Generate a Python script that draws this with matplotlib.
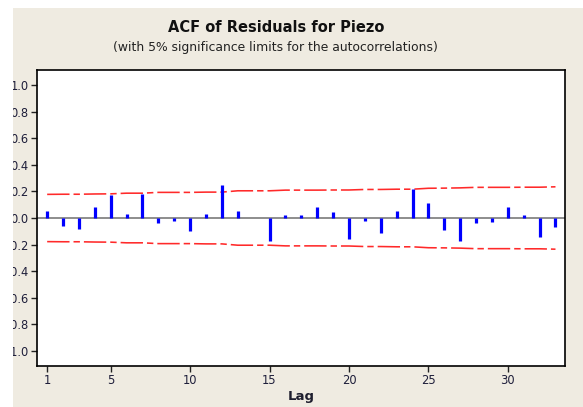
import matplotlib
matplotlib.use("Agg")
import matplotlib.pyplot as plt
from matplotlib.patches import Rectangle

# autocorrelations
lags = list(range(1, 34))
acf = [0.05, -0.063, -0.08, 0.083, 0.175, 0.03, 0.183, -0.04, -0.02, -0.095,
       0.03, 0.25, 0.053, 0.0, -0.175, 0.02, 0.02, 0.08, 0.045, -0.155,
       -0.025, -0.11, 0.053, 0.215, 0.113, -0.088, -0.175, -0.038, -0.028, 0.08,
       0.022, -0.14, -0.065]
# upper 5% significance limit per lag (lower one is the mirror)
limit = [0.178, 0.179, 0.179, 0.181, 0.182, 0.187, 0.187, 0.193, 0.193, 0.193,
         0.195, 0.195, 0.205, 0.205, 0.205, 0.210, 0.210, 0.210, 0.211, 0.211,
         0.215, 0.215, 0.217, 0.217, 0.224, 0.225, 0.227, 0.231, 0.231, 0.231,
         0.232, 0.232, 0.235]
xticks = [1, 5, 10, 15, 20, 25, 30]
yticks = [-1.0, -0.8, -0.6, -0.4, -0.2, 0.0, 0.2, 0.4, 0.6, 0.8, 1.0]

bg = '#efebe1'
plt.rcParams['font.family'] = ['DejaVu Sans']

fig = plt.figure(figsize=(5.83, 4.07), dpi=100, facecolor=bg)
ax = fig.add_axes([37/583, 1 - 366/407, 528/583, 296/407])
ax.set_facecolor('white')

ax.axhline(0, color='#858585', lw=1.3, zorder=1)
ax.vlines(lags, 0, acf, color='#0000ff', lw=2.3, zorder=3)
ax.plot(lags, limit, color='#ff2a2a', lw=1.15, dashes=(14, 2.5, 4, 2.5), zorder=2)
ax.plot(lags, [-v for v in limit], color='#ff2a2a', lw=1.15, dashes=(14, 2.5, 4, 2.5), zorder=2)

ax.set_xlim(0.36, 33.6)
ax.set_ylim(-1.115, 1.115)
ax.set_xticks(xticks)
ax.set_xticklabels([str(t) for t in xticks])
ax.set_yticks(yticks)
ax.set_yticklabels([f'{t:.1f}' for t in yticks])
ax.tick_params(direction='out', length=4.5, width=1, color='#222222',
               labelcolor='#1e1e3a', labelsize=8.3, pad=1.5)
for s in ax.spines.values():
    s.set_color('black')
    s.set_linewidth(1.2)

ax.set_xlabel('Lag', fontsize=9.5, fontweight='bold', color='#1e1e2e', labelpad=2)

fig.text(276/583, 1 - 27/407, 'ACF of Residuals for Piezo', ha='center', va='center',
         fontsize=10.5, fontweight='bold', color='#111111')
fig.text(275/583, 1 - 47/407, '(with 5% significance limits for the autocorrelations)',
         ha='center', va='center', fontsize=8.9, color='#222222')

# white margins where the screenshot was cut
fig.add_artist(Rectangle((0, 0), 13/583, 1, transform=fig.transFigure,
                         facecolor='white', edgecolor='none', zorder=10))
fig.add_artist(Rectangle((0, 1 - 8/407), 1, 8/407, transform=fig.transFigure,
                         facecolor='white', edgecolor='none', zorder=10))

fig.savefig('out.png', dpi=100, facecolor=bg)
